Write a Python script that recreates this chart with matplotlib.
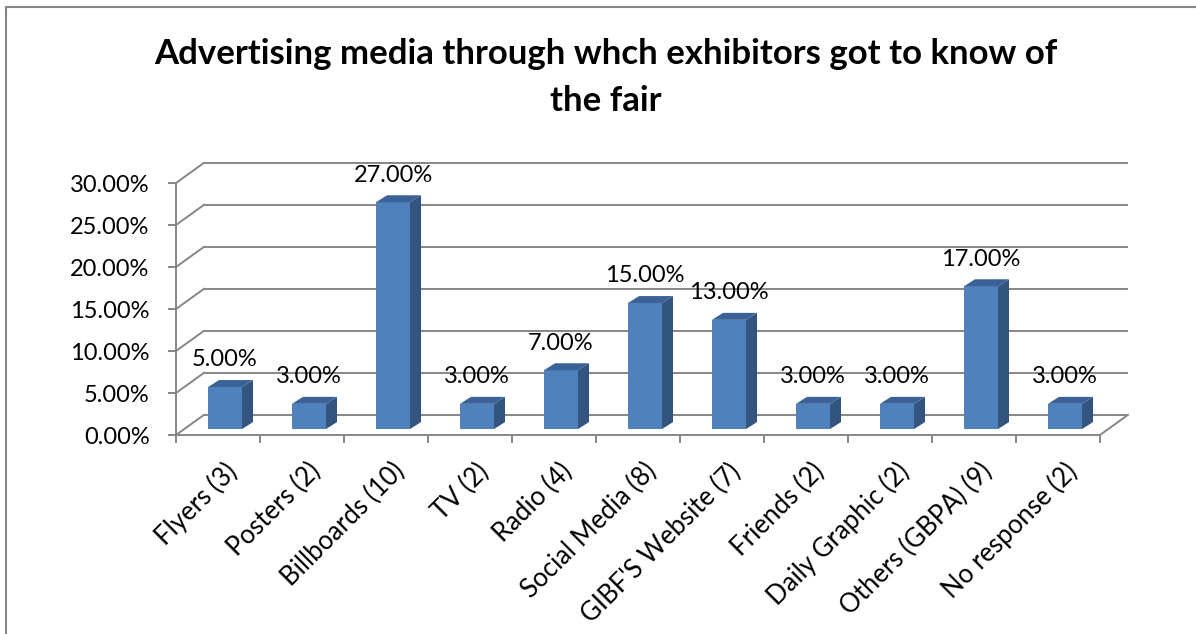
import matplotlib.pyplot as plt
from matplotlib.patches import Polygon, Rectangle
from matplotlib.transforms import ScaledTranslation

##########
#  DATA  #
##########

categories = ["Flyers (3)", "Posters (2)", "Billboards (10)", "TV (2)", "Radio (4)",
              "Social Media (8)", "GIBF'S Website (7)", "Friends (2)",
              "Daily Graphic (2)", "Others (GBPA) (9)", "No response (2)"]
values = [5, 3, 27, 3, 7, 15, 13, 3, 3, 17, 3]
yticks = [0, 5, 10, 15, 20, 25, 30]
title = "Advertising media through whch exhibitors got to know of\nthe fair"

#########
# STYLE #
#########

FONT = "Lato"
GRID = "#868686"
FRONT = "#4F81BD"
SIDE = "#32547F"
TOP = "#3A6296"

# fake 3d: wall depth and bar depth, in data units
WALL_DX, WALL_DY = 0.333, 2.4
BAR_DX, BAR_DY = 0.131, 0.83
BAR_X0, BAR_W, BAR_B0 = 0.381, 0.405, 0.71

W, H = 1196, 634
fig = plt.figure(figsize=(W / 100, H / 100), dpi=100)
ax = fig.add_axes([176 / W, (H - 435) / H, 924 / W, 252 / H])
n = len(categories)
ax.set_xlim(0, n)
ax.set_ylim(0, yticks[-1])

# back wall + left wall
for v in yticks:
    ax.plot([WALL_DX, n + WALL_DX], [v + WALL_DY, v + WALL_DY], color=GRID,
            lw=1.4, zorder=1, clip_on=False, solid_capstyle="butt")
    ax.plot([0, WALL_DX], [v, v + WALL_DY], color=GRID, lw=1.4, zorder=1,
            clip_on=False)
ax.plot([n, n + WALL_DX], [0, WALL_DY], color=GRID, lw=1.4, zorder=1, clip_on=False)

# bars
xs = [i + BAR_X0 + BAR_W / 2 for i in range(n)]
ax.bar(xs, values, width=BAR_W, bottom=BAR_B0, color=FRONT, zorder=3)
for x, v in zip(xs, values):
    r = x + BAR_W / 2
    l = x - BAR_W / 2
    top = BAR_B0 + v
    ax.add_patch(Polygon([(r, BAR_B0), (r + BAR_DX, BAR_B0 + BAR_DY),
                          (r + BAR_DX, top + BAR_DY), (r, top)],
                         closed=True, fc=SIDE, ec="none", zorder=3))
    ax.add_patch(Polygon([(l, top), (r, top), (r + BAR_DX, top + BAR_DY),
                          (l + BAR_DX, top + BAR_DY)],
                         closed=True, fc=TOP, ec="none", zorder=3))
    ax.text(x, top + BAR_DY + 2.4, f"{v:.2f}%", ha="center", va="center",
            fontsize=17, family=FONT, color="black", zorder=4)

# axes
for s in ["top", "right"]:
    ax.spines[s].set_visible(False)
ax.spines["left"].set_color(GRID)
ax.spines["bottom"].set_color(GRID)
ax.spines["left"].set_linewidth(1.4)
ax.spines["bottom"].set_linewidth(1.4)
ax.set_facecolor("none")

ax.set_yticks(yticks)
ax.set_yticklabels([f"{t:.2f}%" for t in yticks], family=FONT, fontsize=17)
ax.set_xticks(range(n + 1))
ax.set_xticklabels([])
ax.set_xticks([i + 0.5 for i in range(n)], minor=True)
ax.set_xticklabels(categories, minor=True, rotation=45, ha="right",
                   rotation_mode="anchor", family=FONT, fontsize=18.5)
ax.tick_params(axis="both", which="major", length=6, width=1.4, color=GRID)
ax.tick_params(axis="y", pad=13)
ax.tick_params(axis="x", which="minor", length=0, pad=17)
shift = ScaledTranslation(4 / 72, 0, fig.dpi_scale_trans)
for lab in ax.get_xticklabels(minor=True):
    lab.set_transform(lab.get_transform() + shift)

fig.text(606 / W, 1 - 77.5 / H, title, ha="center", va="center", fontsize=25,
         fontweight="bold", family=FONT, linespacing=1.54)

# chart frame
fig.patches.append(Rectangle((6 / W, -0.1), 1.2, (H - 7) / H + 0.1,
                             transform=fig.transFigure, fill=False,
                             ec=GRID, lw=1.5))

fig.savefig("out.png", dpi=100)
